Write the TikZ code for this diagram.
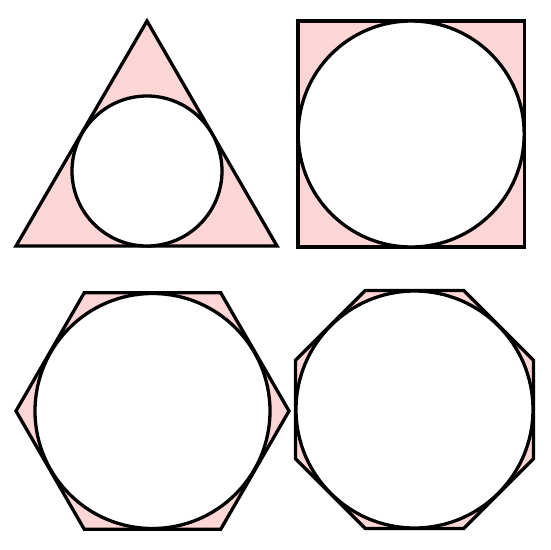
\documentclass[tikz,border=0pt]{standalone}
\definecolor{pinkfill}{RGB}{255,214,214}
\tikzset{
  poly/.style={draw=black, fill=pinkfill, line width=3.3pt, line join=miter},
  incircle/.style={draw=black, fill=white, line width=3.3pt}
}
\begin{document}
\begin{tikzpicture}[x=1pt,y=-1pt]
\useasboundingbox (0,0) rectangle (550,550);
% triangle
\draw[poly] (147,21) -- (277,246) -- (16,246) -- cycle;
\draw[incircle] (147,171) circle (75);
% square
\draw[poly] (298,21) rectangle (524.5,247);
\draw[incircle] (411.2,134) circle (113);
% hexagon
\draw[poly] (152.5,411) +(0:136.5) -- +(60:136.5) -- +(120:136.5) -- +(180:136.5) -- +(240:136.5) -- +(300:136.5) -- cycle;
\draw[incircle] (152.5,411) circle (117.5);
% octagon
\draw[poly] (414.5,409.5) +(22.5:128.8) -- +(67.5:128.8) -- +(112.5:128.8) -- +(157.5:128.8) -- +(202.5:128.8) -- +(247.5:128.8) -- +(292.5:128.8) -- +(337.5:128.8) -- cycle;
\draw[incircle] (414.5,409.5) circle (118.5);
\end{tikzpicture}
\end{document}
